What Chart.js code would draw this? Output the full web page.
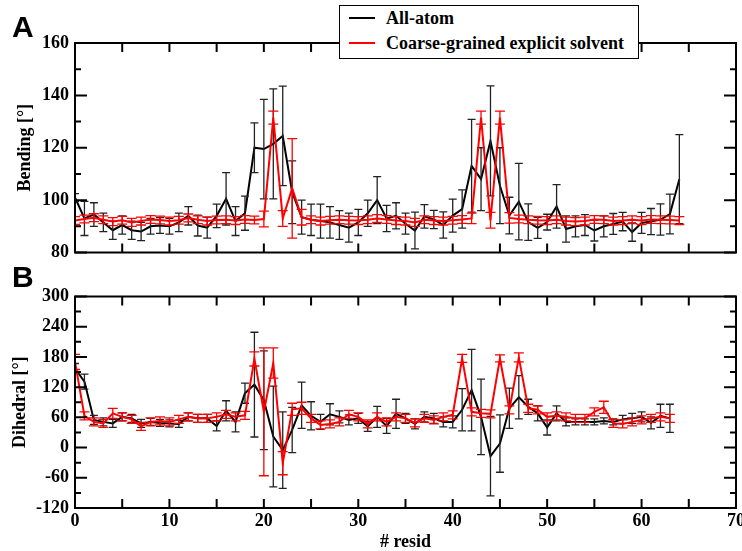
<!DOCTYPE html>
<html>
<head>
<meta charset="utf-8">
<script src="https://cdn.jsdelivr.net/npm/chart.js@4.4.0/dist/chart.umd.min.js"></script>
<style>
  body { margin: 0; background: #fff; }
  #wrap { position: relative; width: 742px; height: 551px; overflow: hidden; font-family: "Liberation Serif", "Times New Roman", serif; }
  canvas { position: absolute; left: 0; }
  #chartA { top: 0; }
  #chartB { top: 270px; }
  .tag { position: absolute; left: 12px; font: bold 30px "Liberation Sans", Arial, sans-serif; color: #000; line-height: 30px; }
  #legend { position: absolute; left: 339px; top: 5px; width: 298px; height: 52px; border: 1.5px solid #000; background: #fff; font-weight: bold; font-size: 18px; }
  .row { position: absolute; left: 0; height: 20px; line-height: 20px; white-space: nowrap; }
  .swatch { position: absolute; left: 9px; top: 9px; width: 26px; height: 2px; }
  .row span.txt { position: absolute; left: 46px; top: 0; }
</style>
</head>
<body>
<div id="wrap">
  <canvas id="chartA" width="742" height="270"></canvas>
  <canvas id="chartB" width="742" height="281"></canvas>
  <div class="tag" style="top:12px">A</div>
  <div class="tag" style="top:262px">B</div>
  <div id="legend"></div>
</div>
<script>
// residue index = position in each array (0, 1, 2, ...)
const seriesNames = ['All-atom', 'Coarse-grained explicit solvent'];
const seriesColors = ['#000000', '#ff0000'];

// Panel A: bending angle
const bendAllAtom = [101, 93, 94.5, 91.5, 88.5, 90.5, 88.5, 88, 90, 90.3,
  90, 91.5, 94, 90.3, 89.5, 94, 100.5, 92, 95, 120,
  119.5, 121.5, 124.5, 103, 93.5, 92.5, 92, 91.5, 90.5, 89.5,
  91.5, 95, 100, 93, 94, 91, 88.4, 93.8, 92.6, 90.5,
  94.1, 96.6, 113.1, 108, 122.6, 105.5, 94.1, 99.4, 91.6, 89.4,
  91.6, 97.6, 89, 90, 90.5, 88.4, 90, 90.9, 91.8, 87.8,
  91.3, 91.8, 92.6, 94.7, 108];
const bendAllAtomErr = [1.5, 6.5, 4.5, 3.5, 3.5, 3.5, 3.5, 3.5, 3, 3,
  3, 3.5, 3.5, 4, 4, 4.5, 10, 5.5, 6.5, 9.5,
  19, 21, 19, 12, 6.5, 6, 6.5, 6, 5.5, 5.5,
  5, 5, 9, 5, 5, 4, 7, 4.5, 3.5, 5,
  6.3, 7.3, 17.7, 12, 21, 14.5, 7, 14.6, 7, 4,
  3, 8.3, 5, 4, 4, 4, 4, 4, 3.5, 3.5,
  4, 5, 6, 7.6, 17];
const bendCG = [92.2, 92.8, 93.3, 92.5, 91.8, 92.3, 91.5, 92, 92.6, 92.4,
  92, 92.3, 93.2, 92.5, 92, 92.4, 92.5, 92.2, 92.6, 92.4,
  92.8, 131.5, 93, 104.5, 93.5, 92.5, 92, 92.3, 92.5, 92.3,
  92.2, 92.5, 93, 92.6, 92.2, 92, 91.5, 92.5, 92.2, 92,
  92.3, 92.6, 93, 131.5, 92.3, 131.5, 93.2, 92.8, 92.5, 92.3,
  92.2, 92.5, 92, 91.8, 92, 92.6, 92.5, 92, 92.2, 92.5,
  92.2, 92.6, 92.5, 92.4, 92.2];
const bendCGErr = [1.5, 1.5, 1.5, 1.5, 1.5, 1.5, 1.5, 1.5, 1.5, 1.5,
  1.5, 1.5, 1.5, 1.5, 1.5, 1.5, 1.5, 1.5, 1.5, 1.5,
  3, 2.5, 3, 19, 3, 1.5, 1.5, 1.5, 1.5, 1.5,
  1.5, 1.5, 1.5, 1.5, 1.5, 1.5, 1.5, 1.5, 1.5, 1.5,
  1.5, 1.5, 2, 2.5, 3, 2.5, 2, 1.5, 1.5, 1.5,
  1.5, 1.5, 1.5, 1.5, 1.5, 1.5, 1.5, 1.5, 1.5, 1.5,
  1.5, 1.5, 1.5, 1.5, 1.5];

// Panel B: dihedral angle
const dihAllAtom = [157, 131, 55, 51, 48, 61, 58, 48, 51, 49,
  48, 47, 61, 58, 58, 43, 73, 51, 108, 125,
  94, 22, -5, 35, 84, 63, 51, 66, 61, 55,
  58, 42, 61, 43, 67, 58, 47, 61, 58, 51,
  51, 75, 114, 61, -17, 8, 78, 100, 81, 68,
  40, 68, 51, 51, 51, 51, 53, 51, 56, 58,
  61, 49, 63, 58];
const dihAllAtomErr = [10, 15, 9, 8, 8, 8, 8, 8, 7, 7,
  7, 7, 8, 8, 8, 10, 20, 20, 20, 104,
  98, 100, 76, 45, 46, 28, 15, 21, 12, 10,
  10, 10, 21, 15, 29, 10, 10, 10, 10, 10,
  12, 42, 81, 75, 79, 57, 40, 43, 15, 15,
  15, 15, 8, 6, 6, 6, 6, 6, 8, 10,
  10, 12, 23, 28];
const dihCG = [170, 63, 51, 48, 68, 61, 56, 42, 51, 53,
  51, 56, 61, 58, 58, 61, 66, 61, 64, 176,
  71, 168, -31, 76, 78, 58, 45, 47, 51, 66,
  61, 47, 61, 51, 61, 58, 49, 58, 55, 61,
  65, 177, 71, 68, 67, 177, 75, 179, 78, 75,
  61, 63, 61, 58, 58, 71, 80, 48, 47, 51,
  55, 58, 61, 58];
const dihCGErr = [15, 8, 8, 8, 10, 8, 8, 8, 8, 8,
  8, 8, 8, 8, 8, 8, 8, 8, 8, 14,
  127, 30, 23, 12, 12, 8, 8, 8, 8, 8,
  8, 8, 8, 8, 8, 8, 8, 8, 8, 8,
  8, 8, 8, 8, 8, 7, 8, 9, 8, 8,
  8, 8, 8, 8, 8, 8, 12, 8, 8, 8,
  8, 8, 8, 8];

const FONT = '"Liberation Serif", "Times New Roman", serif';

function toPoints(vals) {
  return vals.map((v, i) => ({ x: i, y: v }));
}

// frame with inward ticks on all four sides
const framePlugin = {
  id: 'frame',
  afterDraw(chart, args, opts) {
    const { ctx, chartArea: a } = chart;
    const x = chart.scales.x, y = chart.scales.y;
    ctx.save();
    ctx.strokeStyle = '#000';
    ctx.lineWidth = 2;
    ctx.strokeRect(a.left, a.top, a.right - a.left, a.bottom - a.top);
    ctx.beginPath();
    for (let v = x.min; v <= x.max; v += opts.xStep) {
      const px = x.getPixelForValue(v);
      ctx.moveTo(px, a.bottom); ctx.lineTo(px, a.bottom - opts.xLen);
      ctx.moveTo(px, a.top); ctx.lineTo(px, a.top + opts.xLen);
    }
    for (let v = y.min; v <= y.max; v += opts.yMinor) {
      const py = y.getPixelForValue(v);
      const len = (v - y.min) % opts.yMajor === 0 ? opts.yMajorLen : opts.yMinorLen;
      ctx.moveTo(a.left, py); ctx.lineTo(a.left + len, py);
      ctx.moveTo(a.right, py); ctx.lineTo(a.right - len, py);
    }
    ctx.stroke();
    ctx.restore();
  }
};

// error bars drawn right after each dataset, using the y scale
const errorBarPlugin = {
  id: 'errorBars',
  afterDatasetDraw(chart, args) {
    const ds = chart.data.datasets[args.index];
    if (!ds.errors) return;
    const { ctx, chartArea: a } = chart;
    const y = chart.scales.y;
    ctx.save();
    ctx.beginPath();
    ctx.rect(a.left, a.top, a.right - a.left, a.bottom - a.top);
    ctx.clip();
    ctx.strokeStyle = ds.errorColor;
    ctx.lineWidth = 1.3;
    ctx.beginPath();
    args.meta.data.forEach((pt, i) => {
      const v = ds.data[i].y, e = ds.errors[i];
      const t = y.getPixelForValue(v + e), b = y.getPixelForValue(v - e);
      ctx.moveTo(pt.x, t); ctx.lineTo(pt.x, b);
      ctx.moveTo(pt.x - ds.capHalf, t); ctx.lineTo(pt.x + ds.capHalf, t);
      ctx.moveTo(pt.x - ds.capHalf, b); ctx.lineTo(pt.x + ds.capHalf, b);
    });
    ctx.stroke();
    ctx.restore();
  }
};

function makePanel(id, aa, aaErr, cg, cgErr, yMin, yMax, yStep, yMinor, yTitle, titlePad, showX, padding) {
  return new Chart(document.getElementById(id), {
    type: 'line',
    data: {
      datasets: [{
        label: seriesNames[0],
        data: toPoints(aa),
        errors: aaErr,
        errorColor: '#222',
        capHalf: 4,
        borderColor: seriesColors[0],
        borderWidth: 2,
        pointRadius: 0,
        tension: 0,
        order: 1
      }, {
        label: seriesNames[1],
        data: toPoints(cg),
        errors: cgErr,
        errorColor: seriesColors[1],
        capHalf: 5,
        borderColor: seriesColors[1],
        borderWidth: 2,
        pointRadius: 0,
        tension: 0,
        order: 0
      }]
    },
    options: {
      responsive: false,
      animation: false,
      layout: { padding: padding },
      plugins: {
        legend: { display: false },
        tooltip: { enabled: false },
        frame: { xStep: 5, xLen: 9, yMajor: yStep, yMinor: yMinor, yMajorLen: 12, yMinorLen: 6 }
      },
      scales: {
        x: {
          type: 'linear',
          min: 0,
          max: 70,
          display: showX,
          grid: { display: false, drawTicks: false },
          border: { display: false },
          ticks: { stepSize: 10, padding: 3, color: '#000', font: { family: FONT, size: 18, weight: 'bold' } },
          title: { display: true, text: '# resid', color: '#000', padding: 0, font: { family: FONT, size: 18, weight: 'bold', lineHeight: 1 } },
          afterFit: s => {
            s.height = showX ? 43 : 0;
            s.paddingLeft = 0;
            s.paddingRight = 0;
          }
        },
        y: {
          min: yMin,
          max: yMax,
          grid: { display: false, drawTicks: false },
          border: { display: false },
          ticks: { stepSize: yStep, padding: 6, color: '#000', font: { family: FONT, size: 18, weight: 'bold' } },
          title: { display: true, text: yTitle, color: '#000', padding: { top: titlePad, bottom: 0 }, font: { family: FONT, size: 18, weight: 'bold', lineHeight: 1 } },
          afterFit: s => {
            s.width = 75;
            s.paddingTop = 0;
            s.paddingBottom = 0;
          }
        }
      }
    },
    plugins: [framePlugin, errorBarPlugin]
  });
}

makePanel('chartA', bendAllAtom, bendAllAtomErr, bendCG, bendCGErr, 80, 160, 20, 10,
  'Bending [°]', 16, false, { top: 43, right: 6, bottom: 17.5, left: 0 });
makePanel('chartB', dihAllAtom, dihAllAtomErr, dihCG, dihCGErr, -120, 300, 60, 30,
  'Dihedral [°]', 11, true, { top: 26.5, right: 6, bottom: 0, left: 0 });

// legend box
const legend = document.getElementById('legend');
seriesNames.forEach((name, i) => {
  const row = document.createElement('div');
  row.className = 'row';
  row.style.top = (i === 0 ? 2 : 27) + 'px';
  row.innerHTML = '<div class="swatch" style="background:' + seriesColors[i] + '"></div><span class="txt">' + name + '</span>';
  legend.appendChild(row);
});
</script>
</body>
</html>
